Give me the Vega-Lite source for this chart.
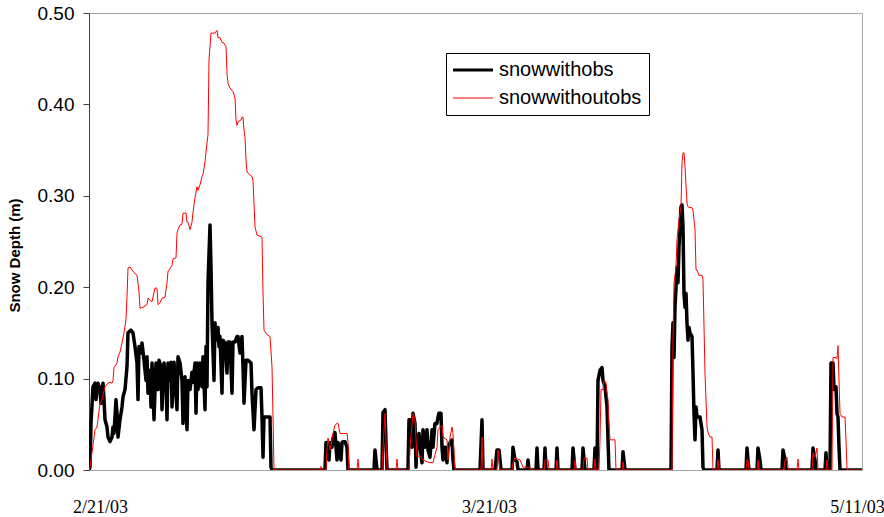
{
  "$schema": "https://vega.github.io/schema/vega-lite/v6.json",
  "width": 773,
  "height": 457,
  "autosize": {"type": "none"},
  "padding": {"left": 89, "top": 13, "right": 22, "bottom": 47},
  "background": "white",
  "config": {"view": {"stroke": "#a6a6a6", "strokeWidth": 1}, "font": "Liberation Sans"},
  "datasets": {
    "obs": [
      {"t":0,"v":0},{"t":1,"v":0.003},{"t":2,"v":0.051},{"t":4,"v":0.091},{"t":6,"v":0.095},{"t":7,"v":0.077},{"t":8,"v":0.088},{"t":9,"v":0.095},{"t":11,"v":0.088},{"t":12,"v":0.073},{"t":13,"v":0.088},{"t":14,"v":0.095},{"t":15,"v":0.077},{"t":16,"v":0.055},{"t":18,"v":0.047},{"t":19,"v":0.036},{"t":21,"v":0.031},{"t":23,"v":0.036},{"t":24,"v":0.047},{"t":25,"v":0.040},{"t":27,"v":0.077},{"t":28,"v":0.062},{"t":29,"v":0.036},{"t":31,"v":0.055},{"t":33,"v":0.069},{"t":34,"v":0.080},{"t":36,"v":0.088},{"t":38,"v":0.113},{"t":39,"v":0.150},{"t":42,"v":0.153},{"t":44,"v":0.150},{"t":46,"v":0.135},{"t":48,"v":0.117},{"t":49,"v":0.077},{"t":50,"v":0.135},{"t":52,"v":0.128},{"t":53,"v":0.139},{"t":55,"v":0.120},{"t":57,"v":0.098},{"t":58,"v":0.124},{"t":59,"v":0.084},{"t":61,"v":0.109},{"t":62,"v":0.069},{"t":63,"v":0.117},{"t":65,"v":0.055},{"t":67,"v":0.117},{"t":69,"v":0.088},{"t":70,"v":0.120},{"t":72,"v":0.113},{"t":73,"v":0.066},{"t":75,"v":0.117},{"t":77,"v":0.098},{"t":78,"v":0.055},{"t":79,"v":0.117},{"t":81,"v":0.098},{"t":82,"v":0.118},{"t":83,"v":0.069},{"t":85,"v":0.118},{"t":86,"v":0.098},{"t":88,"v":0.066},{"t":89,"v":0.124},{"t":91,"v":0.117},{"t":93,"v":0.098},{"t":94,"v":0.051},{"t":96,"v":0.102},{"t":98,"v":0.044},{"t":99,"v":0.098},{"t":101,"v":0.088},{"t":103,"v":0.107},{"t":104,"v":0.096},{"t":106,"v":0.117},{"t":107,"v":0.062},{"t":108,"v":0.117},{"t":109,"v":0.088},{"t":111,"v":0.117},{"t":113,"v":0.091},{"t":114,"v":0.124},{"t":116,"v":0.066},{"t":117,"v":0.135},{"t":118,"v":0.091},{"t":119,"v":0.204},{"t":121,"v":0.268},{"t":122,"v":0.222},{"t":123,"v":0.161},{"t":125,"v":0.098},{"t":126,"v":0.161},{"t":127,"v":0.142},{"t":129,"v":0.156},{"t":130,"v":0.135},{"t":131,"v":0.146},{"t":133,"v":0.084},{"t":134,"v":0.142},{"t":136,"v":0.139},{"t":138,"v":0.106},{"t":139,"v":0.140},{"t":141,"v":0.140},{"t":143,"v":0.084},{"t":144,"v":0.140},{"t":146,"v":0.140},{"t":148,"v":0.146},{"t":149,"v":0.146},{"t":151,"v":0.128},{"t":153,"v":0.146},{"t":154,"v":0.113},{"t":155,"v":0.073},{"t":157,"v":0.120},{"t":159,"v":0.120},{"t":162,"v":0.117},{"t":163,"v":0.084},{"t":165,"v":0.044},{"t":167,"v":0.088},{"t":169,"v":0.090},{"t":172,"v":0.090},{"t":173,"v":0.058},{"t":174,"v":0.014},{"t":175,"v":0.058},{"t":178,"v":0.058},{"t":181,"v":0.058},{"t":182,"v":0.003},{"t":183,"v":0},
      {"t":236,"v":0},{"t":237,"v":0.030},{"t":238,"v":0.030},{"t":240,"v":0.011},{"t":241,"v":0.030},{"t":243,"v":0.025},{"t":244,"v":0.035},{"t":246,"v":0.041},{"t":247,"v":0.025},{"t":248,"v":0.011},{"t":249,"v":0.030},{"t":250,"v":0.022},{"t":252,"v":0.011},{"t":253,"v":0.030},{"t":254,"v":0.031},{"t":256,"v":0.031},{"t":258,"v":0.025},{"t":259,"v":0},
      {"t":285,"v":0},{"t":286,"v":0.022},{"t":288,"v":0},{"t":293,"v":0},{"t":294,"v":0.063},{"t":296,"v":0.066},{"t":297,"v":0.030},{"t":298,"v":0},
      {"t":319,"v":0},{"t":320,"v":0.055},{"t":322,"v":0.055},{"t":323,"v":0.025},{"t":324,"v":0.062},{"t":326,"v":0.051},{"t":327,"v":0.003},{"t":328,"v":0.030},{"t":330,"v":0.040},{"t":331,"v":0.025},{"t":333,"v":0.008},{"t":334,"v":0.044},{"t":336,"v":0.025},{"t":338,"v":0.044},{"t":339,"v":0.022},{"t":341,"v":0.014},{"t":343,"v":0.044},{"t":344,"v":0.025},{"t":346,"v":0.051},{"t":348,"v":0.051},{"t":349,"v":0.058},{"t":350,"v":0.062},{"t":352,"v":0.062},{"t":353,"v":0.025},{"t":354,"v":0.011},{"t":356,"v":0.025},{"t":358,"v":0.008},{"t":359,"v":0.025},{"t":361,"v":0.030},{"t":363,"v":0.033},{"t":364,"v":0.011},{"t":365,"v":0},
      {"t":391,"v":0},{"t":393,"v":0.055},{"t":394,"v":0},{"t":406,"v":0},{"t":408,"v":0.022},{"t":410,"v":0.022},{"t":412,"v":0},{"t":423,"v":0},{"t":424,"v":0.025},{"t":426,"v":0.011},{"t":428,"v":0.009},{"t":429,"v":0},{"t":438,"v":0},{"t":439,"v":0.011},{"t":440,"v":0},{"t":447,"v":0},{"t":448,"v":0.024},{"t":449,"v":0},{"t":455,"v":0},{"t":456,"v":0.024},{"t":457,"v":0},{"t":467,"v":0},{"t":468,"v":0.024},{"t":469,"v":0},{"t":483,"v":0},{"t":484,"v":0.024},{"t":486,"v":0},{"t":493,"v":0},{"t":494,"v":0.024},{"t":496,"v":0},{"t":505,"v":0},{"t":506,"v":0.024},{"t":507,"v":0},{"t":508,"v":0},{"t":509,"v":0.098},{"t":511,"v":0.109},{"t":513,"v":0.112},{"t":514,"v":0.098},{"t":516,"v":0.091},{"t":518,"v":0.069},{"t":519,"v":0.033},{"t":520,"v":0},{"t":533,"v":0},{"t":534,"v":0.020},{"t":536,"v":0},
      {"t":582,"v":0},{"t":583,"v":0.134},{"t":584,"v":0.161},{"t":585,"v":0.123},{"t":586,"v":0.178},{"t":588,"v":0.222},{"t":589,"v":0.205},{"t":590,"v":0.244},{"t":592,"v":0.288},{"t":593,"v":0.290},{"t":594,"v":0.266},{"t":595,"v":0.193},{"t":596,"v":0.178},{"t":597,"v":0.193},{"t":598,"v":0.161},{"t":599,"v":0.142},{"t":600,"v":0.156},{"t":601,"v":0.150},{"t":603,"v":0.146},{"t":604,"v":0.106},{"t":605,"v":0.062},{"t":606,"v":0.033},{"t":607,"v":0.069},{"t":608,"v":0.058},{"t":611,"v":0.058},{"t":613,"v":0.044},{"t":614,"v":0.003},{"t":615,"v":0},
      {"t":628,"v":0},{"t":629,"v":0.022},{"t":630,"v":0},{"t":657,"v":0},{"t":658,"v":0.024},{"t":659,"v":0.011},{"t":660,"v":0},{"t":668,"v":0},{"t":669,"v":0.024},{"t":671,"v":0.011},{"t":672,"v":0},{"t":693,"v":0},{"t":694,"v":0.022},{"t":696,"v":0.011},{"t":697,"v":0},{"t":723,"v":0},{"t":724,"v":0.024},{"t":726,"v":0.011},{"t":727,"v":0},{"t":736,"v":0},{"t":737,"v":0.019},{"t":738,"v":0},{"t":741,"v":0},{"t":742,"v":0.117},{"t":744,"v":0.117},{"t":745,"v":0.088},{"t":747,"v":0.091},{"t":748,"v":0.062},{"t":749,"v":0.058},{"t":750,"v":0.025},{"t":751,"v":0},{"t":773,"v":0}
    ],
    "noobs": [
      {"t":0,"v":0},{"t":1,"v":0.003},{"t":6,"v":0.044},{"t":8,"v":0.047},{"t":11,"v":0.073},{"t":13,"v":0.077},{"t":16,"v":0.091},{"t":19,"v":0.095},{"t":21,"v":0.096},{"t":23,"v":0.095},{"t":24,"v":0.098},{"t":25,"v":0.112},{"t":28,"v":0.117},{"t":29,"v":0.124},{"t":31,"v":0.129},{"t":33,"v":0.139},{"t":35,"v":0.150},{"t":37,"v":0.165},{"t":38,"v":0.190},{"t":39,"v":0.221},{"t":41,"v":0.222},{"t":43,"v":0.219},{"t":45,"v":0.216},{"t":48,"v":0.213},{"t":50,"v":0.195},{"t":51,"v":0.177},{"t":54,"v":0.178},{"t":58,"v":0.181},{"t":59,"v":0.188},{"t":63,"v":0.184},{"t":66,"v":0.199},{"t":68,"v":0.199},{"t":69,"v":0.181},{"t":71,"v":0.183},{"t":73,"v":0.188},{"t":76,"v":0.189},{"t":78,"v":0.205},{"t":79,"v":0.217},{"t":83,"v":0.224},{"t":84,"v":0.231},{"t":87,"v":0.232},{"t":88,"v":0.259},{"t":89,"v":0.263},{"t":91,"v":0.268},{"t":93,"v":0.269},{"t":94,"v":0.281},{"t":97,"v":0.281},{"t":98,"v":0.271},{"t":99,"v":0.271},{"t":101,"v":0.263},{"t":103,"v":0.271},{"t":104,"v":0.282},{"t":106,"v":0.298},{"t":108,"v":0.310},{"t":109,"v":0.306},{"t":111,"v":0.312},{"t":113,"v":0.321},{"t":114,"v":0.323},{"t":116,"v":0.337},{"t":118,"v":0.358},{"t":119,"v":0.367},{"t":120,"v":0.449},{"t":122,"v":0.478},{"t":126,"v":0.478},{"t":128,"v":0.481},{"t":129,"v":0.473},{"t":131,"v":0.473},{"t":133,"v":0.468},{"t":135,"v":0.467},{"t":137,"v":0.463},{"t":138,"v":0.434},{"t":139,"v":0.423},{"t":141,"v":0.418},{"t":144,"v":0.414},{"t":146,"v":0.407},{"t":147,"v":0.383},{"t":148,"v":0.377},{"t":149,"v":0.381},{"t":152,"v":0.383},{"t":153,"v":0.386},{"t":154,"v":0.386},{"t":155,"v":0.372},{"t":156,"v":0.364},{"t":157,"v":0.339},{"t":158,"v":0.326},{"t":163,"v":0.321},{"t":164,"v":0.317},{"t":166,"v":0.266},{"t":168,"v":0.257},{"t":173,"v":0.255},{"t":174,"v":0.194},{"t":175,"v":0.153},{"t":178,"v":0.148},{"t":181,"v":0.146},{"t":183,"v":0.113},{"t":184,"v":0.058},{"t":185,"v":0},
      {"t":231,"v":0},{"t":232,"v":0.004},{"t":233,"v":0},{"t":237,"v":0},{"t":238,"v":0.022},{"t":239,"v":0.035},{"t":241,"v":0.022},{"t":243,"v":0.033},{"t":244,"v":0.040},{"t":246,"v":0.049},{"t":248,"v":0.051},{"t":249,"v":0.051},{"t":251,"v":0.040},{"t":258,"v":0.040},{"t":259,"v":0.030},{"t":260,"v":0},{"t":268,"v":0},{"t":269,"v":0.012},{"t":270,"v":0},
      {"t":293,"v":0},{"t":294,"v":0.025},{"t":296,"v":0.062},{"t":298,"v":0},{"t":307,"v":0},{"t":308,"v":0.012},{"t":309,"v":0},{"t":320,"v":0},{"t":321,"v":0.025},{"t":324,"v":0.062},{"t":326,"v":0.055},{"t":328,"v":0.014},{"t":331,"v":0.016},{"t":334,"v":0.011},{"t":338,"v":0.009},{"t":341,"v":0.008},{"t":344,"v":0.008},{"t":348,"v":0.025},{"t":349,"v":0.044},{"t":353,"v":0.049},{"t":354,"v":0.036},{"t":358,"v":0.033},{"t":359,"v":0.011},{"t":361,"v":0.036},{"t":363,"v":0.047},{"t":364,"v":0.040},{"t":366,"v":0},
      {"t":392,"v":0},{"t":393,"v":0.036},{"t":394,"v":0},{"t":402,"v":0},{"t":403,"v":0.012},{"t":404,"v":0},{"t":408,"v":0},{"t":409,"v":0.022},{"t":411,"v":0},{"t":423,"v":0},{"t":424,"v":0.008},{"t":426,"v":0.013},{"t":431,"v":0.011},{"t":434,"v":0.003},{"t":441,"v":0.003},{"t":442,"v":0},{"t":455,"v":0},{"t":456,"v":0.011},{"t":459,"v":0.011},{"t":460,"v":0},{"t":467,"v":0},{"t":468,"v":0.011},{"t":469,"v":0},{"t":485,"v":0},{"t":486,"v":0.011},{"t":487,"v":0},{"t":494,"v":0},{"t":495,"v":0.013},{"t":498,"v":0.013},{"t":499,"v":0},{"t":505,"v":0},{"t":506,"v":0.012},{"t":507,"v":0},
      {"t":510,"v":0},{"t":511,"v":0.033},{"t":512,"v":0.088},{"t":514,"v":0.088},{"t":515,"v":0.098},{"t":517,"v":0.096},{"t":518,"v":0.084},{"t":519,"v":0.077},{"t":520,"v":0.049},{"t":521,"v":0.033},{"t":526,"v":0.033},{"t":527,"v":0},{"t":533,"v":0},{"t":534,"v":0.009},{"t":535,"v":0},
      {"t":583,"v":0},{"t":584,"v":0.142},{"t":585,"v":0.204},{"t":587,"v":0.222},{"t":588,"v":0.252},{"t":590,"v":0.274},{"t":592,"v":0.288},{"t":593,"v":0.336},{"t":594,"v":0.347},{"t":595,"v":0.347},{"t":596,"v":0.332},{"t":598,"v":0.292},{"t":599,"v":0.288},{"t":601,"v":0.287},{"t":603,"v":0.287},{"t":604,"v":0.284},{"t":606,"v":0.263},{"t":607,"v":0.219},{"t":608,"v":0.219},{"t":610,"v":0.213},{"t":613,"v":0.213},{"t":614,"v":0.208},{"t":616,"v":0.106},{"t":618,"v":0.047},{"t":619,"v":0.041},{"t":621,"v":0.036},{"t":623,"v":0.036},{"t":624,"v":0},
      {"t":628,"v":0},{"t":629,"v":0.011},{"t":630,"v":0},{"t":657,"v":0},{"t":658,"v":0.011},{"t":659,"v":0.011},{"t":660,"v":0},{"t":668,"v":0},{"t":669,"v":0.011},{"t":670,"v":0},{"t":695,"v":0},{"t":696,"v":0.011},{"t":698,"v":0.014},{"t":699,"v":0.003},{"t":700,"v":0},{"t":708,"v":0},{"t":709,"v":0.012},{"t":710,"v":0},{"t":723,"v":0},{"t":724,"v":0.019},{"t":726,"v":0.014},{"t":728,"v":0.024},{"t":729,"v":0},{"t":737,"v":0},{"t":738,"v":0.011},{"t":739,"v":0},
      {"t":743,"v":0},{"t":744,"v":0.123},{"t":746,"v":0.123},{"t":748,"v":0.122},{"t":749,"v":0.136},{"t":750,"v":0.098},{"t":751,"v":0.062},{"t":753,"v":0.058},{"t":756,"v":0.058},{"t":757,"v":0.033},{"t":758,"v":0},{"t":773,"v":0}
    ]
  },
  "encoding": {
    "x": {
      "field": "t", "type": "quantitative",
      "scale": {"domain": [0, 773], "nice": false, "zero": false},
      "axis": {
        "title": null, "values": [11, 400, 768], "ticks": false, "grid": false,
        "labelExpr": "datum.value < 100 ? '2/21/03' : datum.value < 600 ? '3/21/03' : '5/11/03'",
        "labelFont": "Liberation Serif", "labelFontSize": 18, "labelColor": "#000000",
        "labelPadding": 28, "labelFlush": false, "labelOverlap": false,
        "domainColor": "#a6a6a6", "domainWidth": 1
      }
    },
    "y": {
      "field": "v", "type": "quantitative",
      "scale": {"domain": [0, 0.5], "nice": false},
      "axis": {
        "title": "Snow Depth (m)", "values": [0, 0.1, 0.2, 0.3, 0.4, 0.5], "format": ".2f", "grid": false,
        "labelFont": "Liberation Sans", "labelFontSize": 19, "labelColor": "#000000", "labelPadding": 9,
        "tickColor": "#404040", "tickSize": 6, "domainColor": "#404040", "labelFlush": false,
        "titleFont": "Liberation Sans", "titleFontSize": 15, "titleFontWeight": "bold", "titleColor": "#000000",
        "titleX": -75, "titleY": 242, "titleAlign": "center", "titleBaseline": "middle", "titleAngle": -90
      }
    }
  },
  "layer": [
    {
      "data": {"name": "obs"},
      "mark": {"type": "line", "strokeWidth": 3.5, "strokeJoin": "round", "clip": true},
      "encoding": {
        "color": {
          "datum": "snowwithobs", "type": "nominal",
          "scale": {"domain": ["snowwithobs", "snowwithoutobs"], "range": ["#000000", "#ff0000"]},
          "legend": {
            "title": null, "orient": "none", "legendX": 357, "legendY": 40, "direction": "vertical",
            "strokeColor": "#000000", "fillColor": "#ffffff", "padding": 7,
            "symbolType": "M-2,0H2", "symbolSize": 400, "symbolOffset": 10,
            "labelFont": "Liberation Sans", "labelFontSize": 20, "labelColor": "#000000", "labelOffset": 16,
            "rowPadding": 8,
            "encode": {"symbols": {"update": {"strokeWidth": {"signal": "datum.value === 'snowwithobs' ? 3 : 1"}}}}
          }
        }
      }
    },
    {
      "data": {"name": "noobs"},
      "mark": {"type": "line", "strokeWidth": 1, "strokeJoin": "round", "clip": true},
      "encoding": {"color": {"datum": "snowwithoutobs", "type": "nominal"}}
    }
  ]
}
